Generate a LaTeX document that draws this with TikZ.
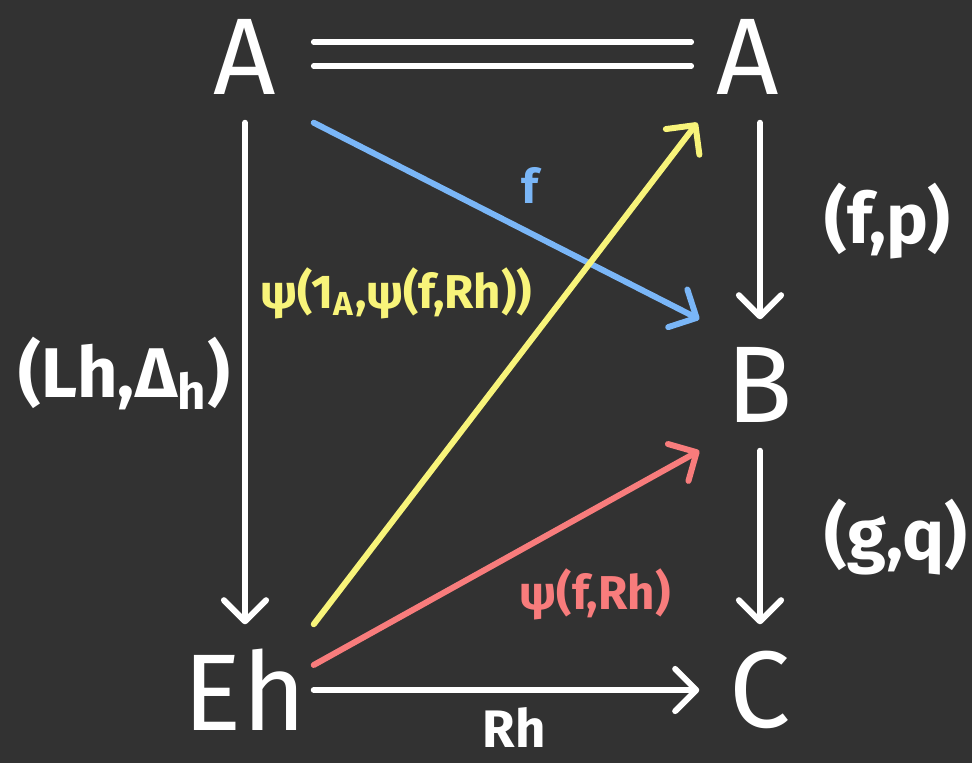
\documentclass[tikz,border=0pt]{standalone}
\usepackage{fontspec}
\setmainfont{Fira Sans}
\usetikzlibrary{arrows.meta}

\definecolor{bgdark}{HTML}{323232}
\definecolor{fblue}{HTML}{7AB6F7}
\definecolor{psiyellow}{HTML}{F8F47A}
\definecolor{psired}{HTML}{F87C7C}

\begin{document}
\begin{tikzpicture}[x=0.01cm, y=-0.01cm,
		obj/.style={text=white, font=\fontsize{31}{31}\selectfont, minimum width=1.2cm, minimum height=1.3cm, inner sep=0pt},
		arr/.style={white, line width=1.7pt, line cap=round, -{Straight Barb[length=6pt,width=12pt,round]}},
		lbl/.style={text=white, font=\bfseries\fontsize{20}{20}\selectfont},
		small/.style={font=\bfseries\fontsize{13.5}{13.5}\selectfont}]
		% Background
		\fill[bgdark] (0,0) rectangle (972,763);
		\useasboundingbox (0,0) rectangle (972,763);
		
		% Objects
		\node[obj, minimum width=1.36cm] (A) at (245,57) {A};
		\node[obj, minimum width=1.0cm] (A2) at (748,57) {A};
		\node[obj] (B) at (760,385) {B};
		\node[obj, minimum width=1.36cm] (Eh) at (245,690) {Eh};
		\node[obj] (C) at (760,690) {C};
		
		% Equality
		\draw[white, line width=1.6pt, line cap=round] ([yshift=0.15cm]A.east) -- ([xshift=-0.06cm, yshift=0.15cm]A2.west);
		\draw[white, line width=1.6pt, line cap=round] ([yshift=-0.09cm]A.east) -- ([xshift=-0.06cm, yshift=-0.09cm]A2.west);
		
		% Vertical arrows
		\draw[arr] (A) -- (Eh) node[midway, left, lbl] {(Lh,Δ\textsubscript{h})};
		\draw[arr] (B |- A2.south) -- (B) node[midway, right=0.5cm, lbl] {(f,p)};
		\draw[arr] (B) -- (C) node[midway, right=0.5cm, lbl] {(g,q)};
		\draw[arr] (Eh) -- (C) node[pos=0.52, below=0.03cm, text=white, small, font=\bfseries\fontsize{15}{15}\selectfont] {Rh};
		
		% Diagonal arrows
		\draw[arr, fblue] (A.south east) -- (B.north west) node[pos=0.56, above=0.15cm, small] {f};
		\draw[arr, psiyellow] (Eh.north east) -- (A2.south west) node[pos=0.66, left=0.2cm, small] {ψ(1\textsubscript{A},ψ(f,Rh))};
		\draw[arr, psired] (Eh.20) -- (B.south west) node[pos=0.73, below=0.45cm, small] {ψ(f,Rh)};
	\end{tikzpicture}
\end{document}
